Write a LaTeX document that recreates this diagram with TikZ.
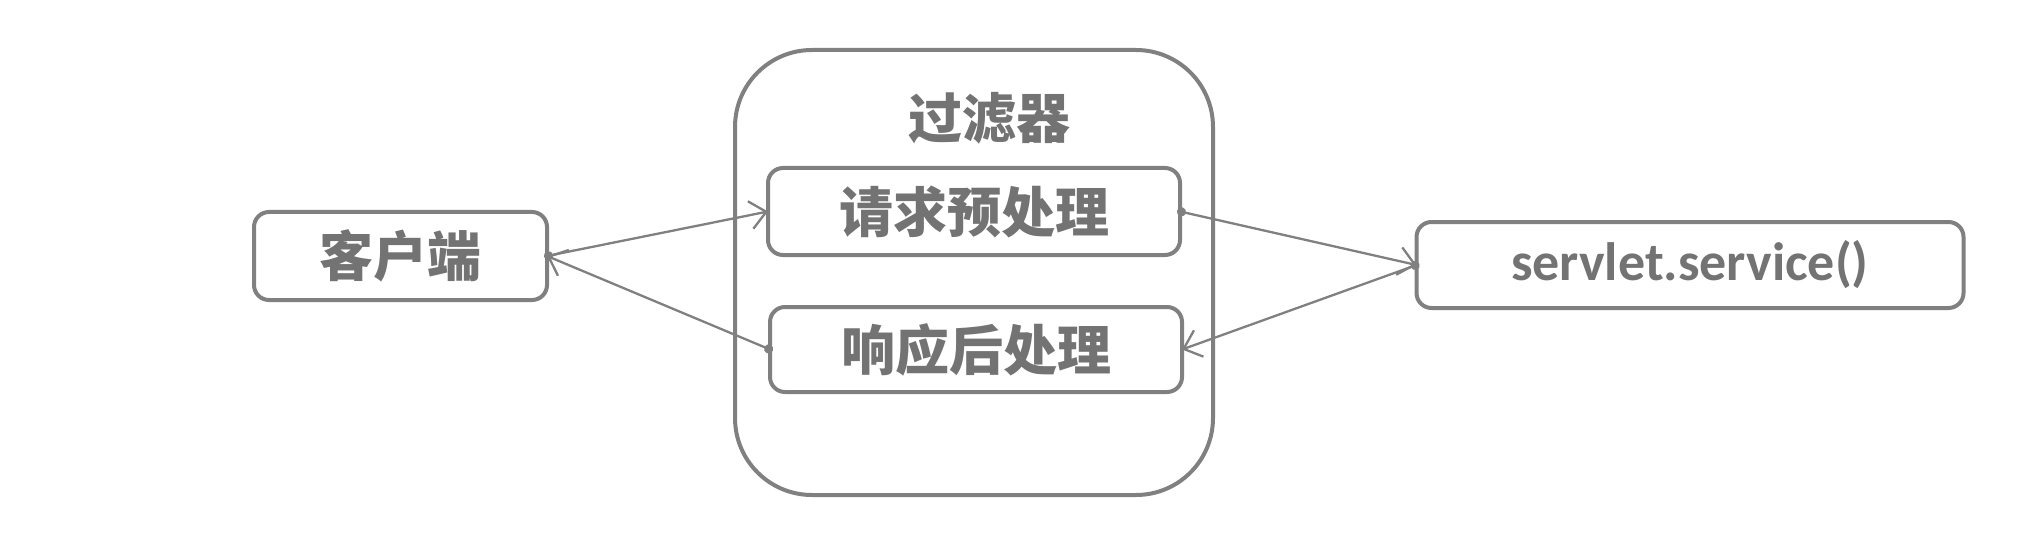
\documentclass[tikz,border=0pt]{standalone}
\usepackage{fontspec}
\newfontfamily\cjk{Noto Sans CJK SC}
\newfontfamily\carl{Carlito}
\usetikzlibrary{arrows.meta}
\definecolor{lc}{HTML}{808080}
\definecolor{tc}{HTML}{737373}
\begin{document}
\begin{tikzpicture}[x=1pt,y=-1pt,
  box/.style={draw=lc, line width=4pt, rounded corners=15pt, outer sep=0pt, inner sep=0pt, text=tc},
  cjktext/.style={font=\cjk\bfseries\fontsize{54}{60}\selectfont},
  conn/.style={draw=lc, line width=2.3pt, {Circle[length=9pt]}-{Straight Barb[length=16pt,width=28pt,line width=2.3pt]}, shorten <=-3pt}]
\useasboundingbox (0,0) rectangle (2023,548);
\node[box, rounded corners=77pt, minimum width=478pt, minimum height=445pt] (filter) at (974,272.5) {};
\node[text=tc, cjktext] (title) at (989,118) {过滤器};
\node[box, cjktext, minimum width=293pt, minimum height=88pt] (client) at (400.5,256) {客户端};
\node[box, cjktext, minimum width=412pt, minimum height=87pt] (req) at (974,211.5) {请求预处理};
\node[box, cjktext, minimum width=412pt, minimum height=85pt] (resp) at (976,349.5) {响应后处理};
\node[box, font=\carl\bfseries\fontsize{54}{60}\selectfont, minimum width=547pt, minimum height=86pt] (srv) at (1690,265) {servlet.service()};
\draw[conn] (client.east) -- (req.west);
\draw[conn] (resp.west) -- (client.east);
\draw[conn] (req.east) -- (srv.west);
\draw[conn] (srv.west) -- (resp.east);
\end{tikzpicture}
\end{document}
